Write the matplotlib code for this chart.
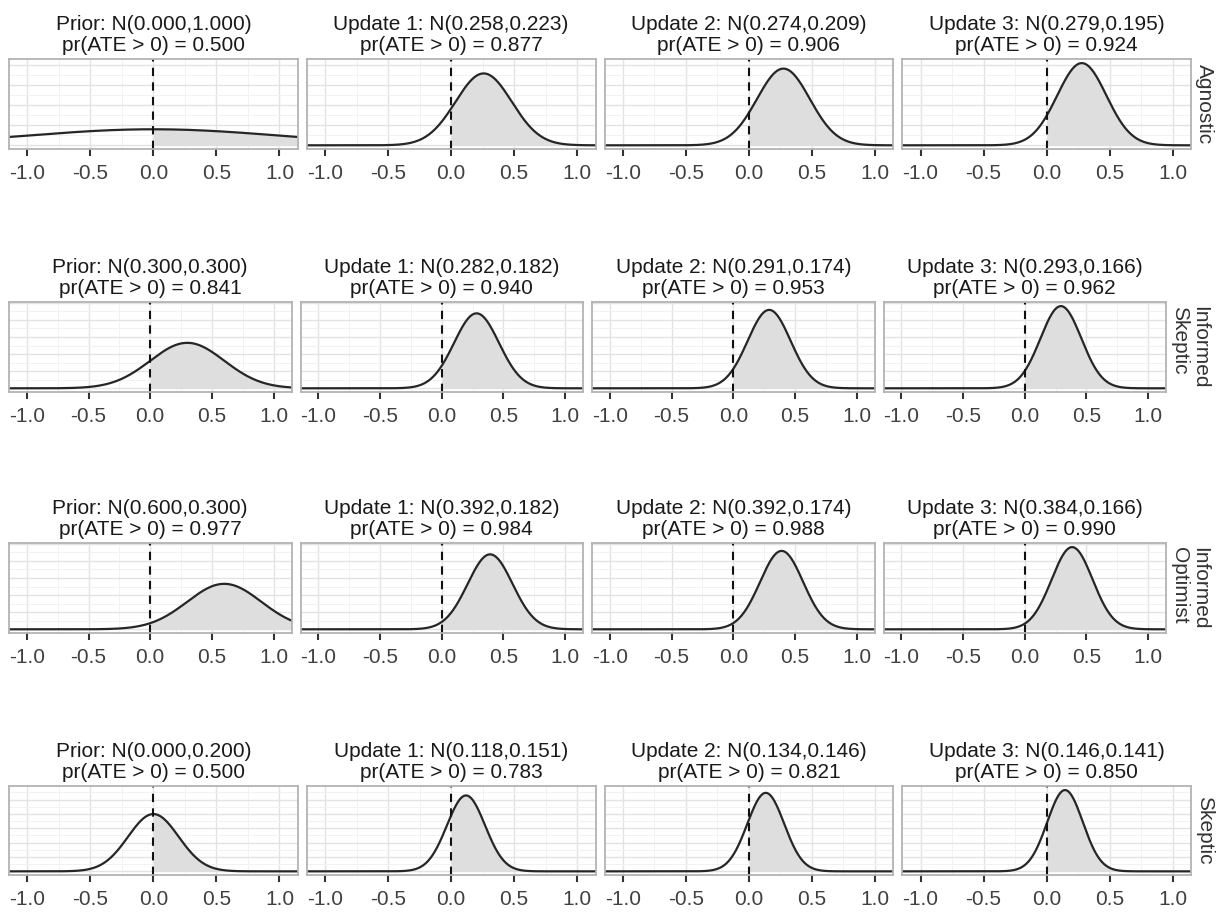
import numpy as np
import matplotlib
matplotlib.use("Agg")
import matplotlib.pyplot as plt
from matplotlib.ticker import MultipleLocator, FixedLocator

plt.rcParams['font.family'] = ['Liberation Sans', 'DejaVu Sans']
plt.rcParams['axes.unicode_minus'] = False

# ---- data ----
row_labels = ["Agnostic", "Informed\nSkeptic", "Informed\nOptimist", "Skeptic"]
stage_labels = ["Prior", "Update 1", "Update 2", "Update 3"]
means = [
    [0.000, 0.258, 0.274, 0.279],
    [0.300, 0.282, 0.291, 0.293],
    [0.600, 0.392, 0.392, 0.384],
    [0.000, 0.118, 0.134, 0.146],
]
sds = [
    [1.000, 0.223, 0.209, 0.195],
    [0.300, 0.182, 0.174, 0.166],
    [0.300, 0.182, 0.174, 0.166],
    [0.200, 0.151, 0.146, 0.141],
]
probs = [
    [0.500, 0.877, 0.906, 0.924],
    [0.841, 0.940, 0.953, 0.962],
    [0.977, 0.984, 0.988, 0.990],
    [0.500, 0.783, 0.821, 0.850],
]
x_ticks = [-1.0, -0.5, 0.0, 0.5, 1.0]
x_tick_labels = ["-1.0", "-0.5", "0.0", "0.5", "1.0"]

# ---- layout (pixels) ----
W, H = 1220, 913
fig = plt.figure(figsize=(W / 100, H / 100), dpi=100)

row_tops = [59, 302, 543, 786]
row_heights = [90, 90, 90, 89]
row_right = [1191, 1166, 1166, 1191]
left = 9
gap = 9
xlim = (-1.145, 1.145)

def npdf(x, m, s):
    return np.exp(-0.5 * ((x - m) / s) ** 2) / (s * np.sqrt(2 * np.pi))

xs = np.linspace(xlim[0], xlim[1], 600)

for r in range(4):
    width = (row_right[r] - left - 3 * gap) / 4
    ymax = max(npdf(m, m, s) for m, s in zip(means[r], sds[r]))
    for c in range(4):
        x0 = left + c * (width + gap)
        ax = fig.add_axes([x0 / W, 1 - (row_tops[r] + row_heights[r]) / H,
                           width / W, row_heights[r] / H])
        m, s = means[r][c], sds[r][c]
        ys = npdf(xs, m, s)
        pos = xs >= 0
        ax.fill_between(xs[pos], 0, ys[pos], color="#dedede", lw=0, zorder=2)
        ax.plot(xs, ys, color="#262626", lw=1.6, zorder=3)
        ax.axvline(0, color="#111111", lw=1.5, ls=(0, (4, 3)), zorder=4)

        ax.set_xlim(*xlim)
        ax.set_ylim(-0.045 * ymax, 1.05 * ymax)
        ax.xaxis.set_major_locator(FixedLocator(x_ticks))
        ax.set_xticklabels(x_tick_labels)
        ax.xaxis.set_minor_locator(MultipleLocator(0.25))
        ax.yaxis.set_major_locator(MultipleLocator(0.5))
        ax.yaxis.set_minor_locator(MultipleLocator(0.25))
        ax.grid(True, which="major", color="#e3e3e3", lw=1.0, zorder=0)
        ax.grid(True, which="minor", color="#f2f2f2", lw=0.7, zorder=0)
        ax.set_axisbelow(True)
        ax.tick_params(axis="x", which="major", length=5, width=1.5,
                       color="#333333", labelsize=15, labelcolor="#404040", pad=6)
        ax.tick_params(axis="x", which="minor", length=0)
        ax.tick_params(axis="y", which="both", left=False, labelleft=False)
        for sp in ax.spines.values():
            sp.set_color("#b3b3b3")
            sp.set_linewidth(1.3)
            sp.set_zorder(5)

        title = "%s: N(%.3f,%.3f)\npr(ATE > 0) = %.3f" % (stage_labels[c], m, s, probs[r][c])
        ax.set_title(title, fontsize=15, color="#1a1a1a", pad=6, linespacing=1.12)

        if c == 3:
            ax.text(1 + 4 / width, 0.5, row_labels[r], transform=ax.transAxes,
                    rotation=270, ha="left", va="center", fontsize=15,
                    color="#333333", linespacing=1.05)

fig.savefig("out.png", dpi=100, facecolor="white")
